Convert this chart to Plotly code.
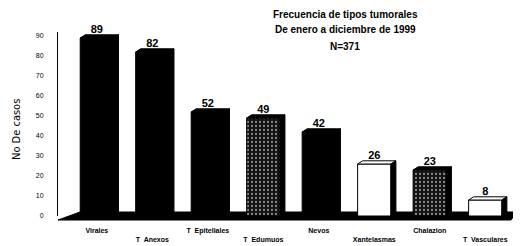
import plotly.graph_objects as go

categories = ["Virales", "T  Anexos", "T  Epiteliales", "T  Edumuos", "Nevos",
              "Xantelasmas", "Chalazion", "T  Vasculares"]
values = [89, 82, 52, 49, 42, 26, 23, 8]
styles = ["solid", "solid", "solid", "speckle", "solid", "white", "speckle", "white"]
title_lines = ["Frecuencia de tipos tumorales", "De enero a diciembre de 1999", "N=371"]
y_ticks = [0, 10, 20, 30, 40, 50, 60, 70, 80, 90]

# page offset caused by the default body margin of the html page
OX, OY = 8, 8
W, H = 521 - OX, 246 - OY
L, R, T, B = 58 - OX, 8, 32 - OY, 30
YMAX = 92
XR = [-0.70, 7.5]
BW = 0.6

def px(x, y):
    x, y = x - OX, y - OY
    return ((x - L) / (W - L - R), (H - B - y) / (H - T - B))

fill = []
pat_shape = []
for s in styles:
    if s == "solid":
        fill.append("black"); pat_shape.append("")
    elif s == "white":
        fill.append("white"); pat_shape.append("")
    else:
        fill.append("#111"); pat_shape.append(".")

ticktext = ["<b>" + c + "</b>" if i % 2 == 0 else "<br><b>" + c + "</b>" for i, c in enumerate(categories)]

fig = go.Figure(go.Bar(
    x=list(range(len(categories))), y=values, width=BW,
    marker=dict(color=fill, line=dict(color="black", width=1),
                pattern=dict(shape=pat_shape, fgcolor="white", bgcolor="#111",
                             size=4, solidity=0.25)),
    text=["<b>" + str(v) + "</b>" for v in values], textposition="outside",
    textfont=dict(family="Arial, Liberation Sans", size=11, color="black"),
    cliponaxis=False,
))

shapes = []
dx, dy = 0.09, 1.6
for i, (v, s) in enumerate(zip(values, styles)):
    x0, x1 = i - BW / 2, i + BW / 2
    topfill = "white" if s == "white" else "black"
    shapes.append(dict(type="path", xref="x", yref="y",
                       path=f"M {x0},{v} L {x0+dx},{v+dy} L {x1+dx},{v+dy} L {x1},{v} Z",
                       fillcolor=topfill, line=dict(color="black", width=1)))
    shapes.append(dict(type="path", xref="x", yref="y",
                       path=f"M {x1},0 L {x1},{v} L {x1+dx},{v+dy} L {x1+dx},{dy} Z",
                       fillcolor="black", line=dict(color="black", width=1)))

# floor
pts = [px(58, 220), px(80, 212), px(517, 212), px(511, 220), px(58, 220)]
path = "M " + " L ".join(f"{a},{b}" for a, b in pts) + " Z"
shapes.insert(0, dict(type="path", xref="paper", yref="paper", path=path,
                      fillcolor="black", line=dict(color="black", width=1), layer="below"))

annotations = []
for (t, ypix) in zip(title_lines, [15, 30, 46]):
    xp, yp = px(345, ypix)
    annotations.append(dict(text=f"<b>{t}</b>", x=xp, y=yp, xref="paper", yref="paper",
                            showarrow=False, xanchor="center", yanchor="middle",
                            font=dict(family="Arial, Liberation Sans", size=10, color="black")))
xp, yp = px(17, 130)
annotations.append(dict(text="No De casos", x=xp, y=yp, xref="paper", yref="paper",
                        showarrow=False, textangle=-90, xanchor="center", yanchor="middle",
                        font=dict(family="DejaVu Sans Condensed, Liberation Sans", size=11, color="black")))

fig.update_layout(
    width=W, height=H, margin=dict(l=L, r=R, t=T, b=B, autoexpand=False),
    paper_bgcolor="white", plot_bgcolor="white", showlegend=False,
    shapes=shapes, annotations=annotations,
    xaxis=dict(range=XR, tickvals=list(range(len(categories))), ticktext=ticktext,
               showgrid=False, zeroline=False, showline=False, ticks="",
               automargin=False, ticklabelstandoff=9,
               tickfont=dict(family="Arial, Liberation Sans", size=7, color="black"),
               tickangle=0),
    yaxis=dict(range=[0, YMAX], tickvals=y_ticks, showgrid=False, zeroline=False,
               showline=True, linecolor="black", linewidth=1, ticks="",
               automargin=False, ticklabelstandoff=12,
               tickfont=dict(family="Arial, Liberation Sans", size=7, color="black")),
)

fig.write_html("out.html")
